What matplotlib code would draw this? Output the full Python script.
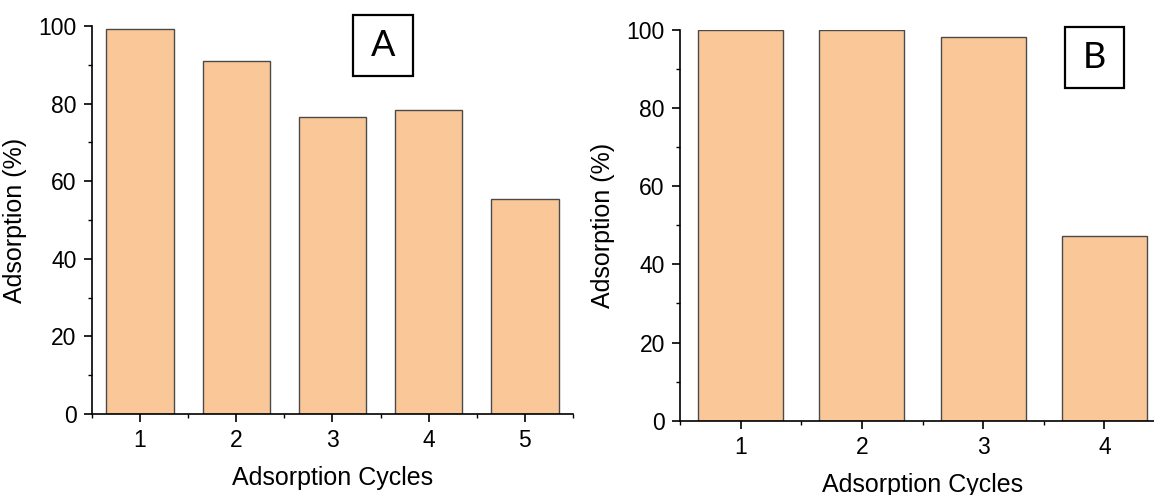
import matplotlib.pyplot as plt
from matplotlib.patches import Rectangle
from matplotlib.ticker import MultipleLocator

plt.rcParams['font.family'] = ['Liberation Sans', 'DejaVu Sans']

# ── 資料 ──
cycles_a = [1, 2, 3, 4, 5]
adsorption_a = [99.1, 91.0, 76.6, 78.3, 55.3]

cycles_b = [1, 2, 3, 4]
adsorption_b = [99.9, 100.0, 98.2, 47.2]

bar_color = '#FAC898'
edge_color = '#4a4a4a'

fig = plt.figure(figsize=(11.54, 4.95), dpi=100)

# ── 面板 A ──
ax1 = fig.add_axes([0.0797, 0.1636, 0.4168, 0.7839])
ax1.bar(cycles_a, adsorption_a, width=0.7, color=bar_color, edgecolor=edge_color, linewidth=1.0)
ax1.set_xlim(0.5, 5.5)
ax1.set_ylim(0, 100)
ax1.set_xticks(cycles_a)

# ── 面板 B ──（右側被裁切）
ax2 = fig.add_axes([0.5893, 0.150, 0.4202, 0.7904])
ax2.bar(cycles_b, adsorption_b, width=0.7, color=bar_color, edgecolor=edge_color, linewidth=1.0)
ax2.set_xlim(0.5, 4.5)
ax2.set_ylim(0, 100)
ax2.set_xticks(cycles_b)

for ax in (ax1, ax2):
    ax.spines['top'].set_visible(False)
    ax.spines['right'].set_visible(False)
    ax.spines['left'].set_linewidth(1.2)
    ax.spines['bottom'].set_linewidth(1.2)
    ax.yaxis.set_major_locator(MultipleLocator(20))
    ax.yaxis.set_minor_locator(MultipleLocator(10))
    ax.xaxis.set_minor_locator(MultipleLocator(0.5))
    ax.tick_params(which='major', direction='out', length=6, width=1.2, labelsize=16.5, pad=5)
    ax.tick_params(which='minor', direction='out', length=3, width=1.0)
    ax.set_xlabel('Adsorption Cycles', fontsize=18, labelpad=10)
    ax.set_ylabel('Adsorption (%)', fontsize=18, labelpad=8)

# ── 標籤框 A / B ──
W, H = 1154, 495
for label, (x0, y0, x1, y1) in [('A', (353, 15, 413, 76)), ('B', (1065, 27, 1124, 88))]:
    fig.patches.append(Rectangle((x0 / W, 1 - y1 / H), (x1 - x0) / W, (y1 - y0) / H,
                                 transform=fig.transFigure, fill=False,
                                 edgecolor='black', linewidth=1.6))
    fig.text((x0 + x1) / 2 / W, 1 - (y0 + y1) / 2 / H, label, fontsize=26,
             ha='center', va='center', family=['Lato', 'DejaVu Sans'])

plt.savefig('out.png', dpi=100)
